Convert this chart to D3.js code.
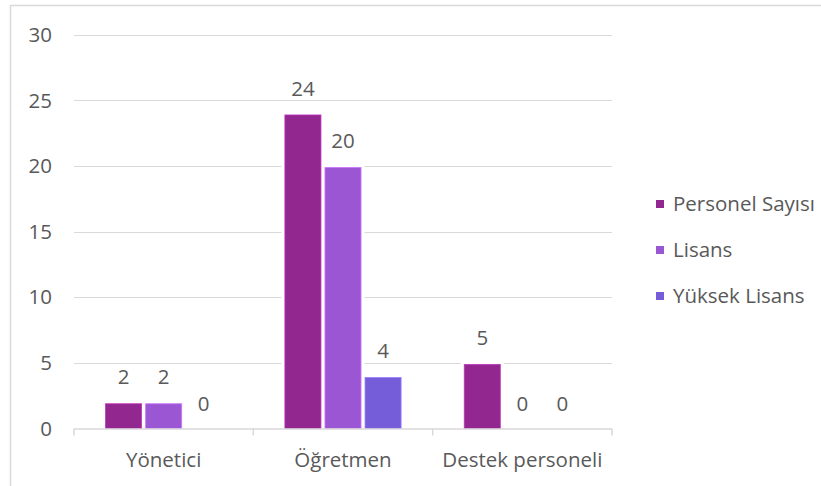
<!DOCTYPE html>
<html>
<head>
<meta charset="utf-8">
<script src="https://cdn.jsdelivr.net/npm/d3@7"></script>
<style>
  html, body { margin: 0; padding: 0; background: #fff; }
  svg { display: block; }
  text { font-family: "Open Sans", "Noto Sans", sans-serif; fill: #595959; }
</style>
</head>
<body>
<script>
const categories = ["Yönetici", "Öğretmen", "Destek personeli"];
const seriesNames = ["Personel Sayısı", "Lisans", "Yüksek Lisans"];
const personelSayisi = [2, 24, 5];
const lisans = [2, 20, 0];
const yuksekLisans = [0, 4, 0];
const yTicks = [0, 5, 10, 15, 20, 25, 30];
const colors = ["#92278F", "#9B57D3", "#755DD9"];

const seriesValues = [personelSayisi, lisans, yuksekLisans];

const W = 821, H = 486;
const plot = { left: 74, right: 612, top: 34.7, bottom: 428.5 };
const fontSize = 20.5;
const barInset = 1.5; // bars sit slightly below their value line, as in the reference

const svg = d3.select("body").append("svg").attr("width", W).attr("height", H);

// chart border (top and left visible)
svg.append("line").attr("x1", 10).attr("x2", W).attr("y1", 5.5).attr("y2", 5.5)
  .attr("stroke", "#D9D9D9").attr("stroke-width", 1.5);
svg.append("line").attr("x1", 10.5).attr("x2", 10.5).attr("y1", 5).attr("y2", H)
  .attr("stroke", "#D9D9D9").attr("stroke-width", 1.5);

const y = d3.scaleLinear().domain([0, 30]).range([plot.bottom, plot.top]);
const x0 = d3.scaleBand().domain(categories).range([plot.left, plot.right]).padding(0);
const outer = x0.bandwidth() * 0.176;
const x1 = d3.scaleBand().domain(seriesNames)
  .range([outer, x0.bandwidth() - outer]).paddingInner(0.1).paddingOuter(0);

// gridlines
svg.append("g").selectAll("line").data(yTicks.filter(d => d > 0)).join("line")
  .attr("x1", plot.left).attr("x2", plot.right)
  .attr("y1", d => Math.round(y(d)) + 0.5).attr("y2", d => Math.round(y(d)) + 0.5)
  .attr("stroke", "#D9D9D9").attr("stroke-width", 1.2);

// y tick labels
svg.append("g").selectAll("text").data(yTicks).join("text")
  .attr("x", 52).attr("y", d => y(d)).attr("dy", "0.35em")
  .attr("text-anchor", "end").attr("font-size", fontSize)
  .text(d => d);

const data = [];
categories.forEach((c, ci) => {
  seriesNames.forEach((s, si) => {
    data.push({ cat: c, series: s, si, value: seriesValues[si][ci] });
  });
});

const groups = svg.append("g");
// white halo behind bars (breaks gridlines like the reference)
groups.selectAll("rect.halo").data(data.filter(d => d.value > 0)).join("rect")
  .attr("class", "halo")
  .attr("x", d => x0(d.cat) + x1(d.series) - 3.5)
  .attr("y", d => y(d.value) - 1)
  .attr("width", x1.bandwidth() + 7)
  .attr("height", d => plot.bottom - y(d.value) + 1)
  .attr("fill", "#fff");

groups.selectAll("rect.bar").data(data.filter(d => d.value > 0)).join("rect")
  .attr("class", "bar")
  .attr("x", d => x0(d.cat) + x1(d.series))
  .attr("y", d => y(d.value) + barInset)
  .attr("width", x1.bandwidth())
  .attr("height", d => plot.bottom - y(d.value) - barInset)
  .attr("fill", d => colors[d.si])
  .attr("stroke", d => d3.color(colors[d.si]).brighter(0.8))
  .attr("stroke-width", 0.8);

// data labels
groups.selectAll("text.lbl").data(data).join("text")
  .attr("class", "lbl")
  .attr("x", d => x0(d.cat) + x1(d.series) + x1.bandwidth() / 2)
  .attr("y", d => y(d.value) - 25).attr("dy", "0.35em")
  .attr("text-anchor", "middle").attr("font-size", fontSize)
  .text(d => d.value);

// x axis baseline and ticks
svg.append("line").attr("x1", plot.left).attr("x2", plot.right)
  .attr("y1", plot.bottom + 0.5).attr("y2", plot.bottom + 0.5)
  .attr("stroke", "#D9D9D9").attr("stroke-width", 1.5);
const tickXs = categories.map(c => x0(c)).concat([x0(categories[categories.length - 1]) + x0.bandwidth()]);
svg.append("g").selectAll("line").data(tickXs).join("line")
  .attr("x1", d => d).attr("x2", d => d)
  .attr("y1", plot.bottom).attr("y2", plot.bottom + 7)
  .attr("stroke", "#D9D9D9").attr("stroke-width", 1.5);

svg.append("g").selectAll("text").data(categories).join("text")
  .attr("x", d => x0(d) + x0.bandwidth() / 2)
  .attr("y", 460).attr("dy", "0.35em")
  .attr("text-anchor", "middle").attr("font-size", fontSize)
  .text(d => d);

// legend
const legend = svg.append("g");
const legY = d3.scalePoint().domain(seriesNames).range([204, 296]);
seriesNames.forEach((s, i) => {
  legend.append("rect").attr("x", 656).attr("y", legY(s) - 4).attr("width", 8).attr("height", 8)
    .attr("fill", colors[i]);
  legend.append("text").attr("x", 673).attr("y", legY(s)).attr("dy", "0.35em")
    .attr("font-size", fontSize).text(s);
});
</script>
</body>
</html>
